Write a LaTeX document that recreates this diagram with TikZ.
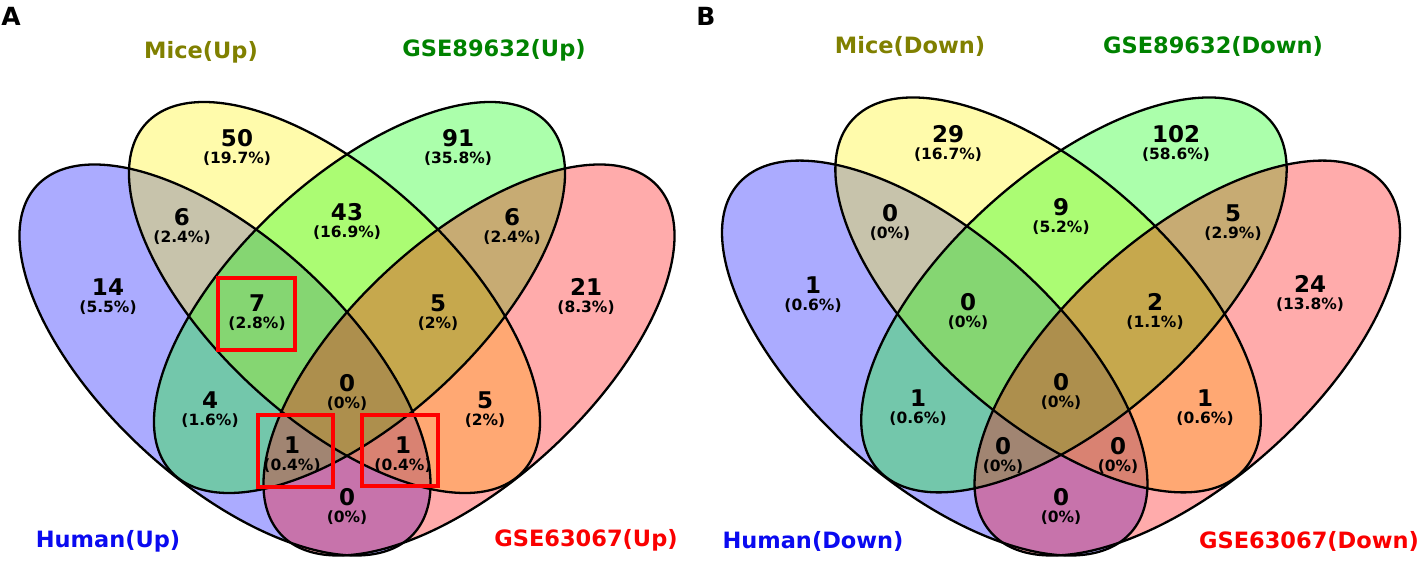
\documentclass[tikz,border=0pt]{standalone}
\usepackage{fontspec}
\setmainfont{DejaVu Sans}
\usetikzlibrary{positioning}
\definecolor{humanblue}{RGB}{10,10,240}
\definecolor{miceolive}{RGB}{128,128,0}
\definecolor{gsegreen}{RGB}{0,130,0}
\definecolor{gsered}{RGB}{250,0,0}

\newcommand{\vennsets}{%
  \fill[blue,venn,rotate around={-42.75:(225,360)}] (225,360) ellipse [x radius=256.5,y radius=121];
  \fill[yellow,venn,rotate around={-42.75:(334.5,297.5)}] (334.5,297.5) ellipse [x radius=256.5,y radius=121];
  \fill[green,venn,rotate around={42.75:(359.5,297.5)}] (359.5,297.5) ellipse [x radius=256.5,y radius=121];
  \fill[red,venn,rotate around={42.75:(469,360)}] (469,360) ellipse [x radius=256.5,y radius=121];
  \draw[rim,rotate around={-42.75:(225,360)}] (225,360) ellipse [x radius=256.5,y radius=121];
  \draw[rim,rotate around={-42.75:(334.5,297.5)}] (334.5,297.5) ellipse [x radius=256.5,y radius=121];
  \draw[rim,rotate around={42.75:(359.5,297.5)}] (359.5,297.5) ellipse [x radius=256.5,y radius=121];
  \draw[rim,rotate around={42.75:(469,360)}] (469,360) ellipse [x radius=256.5,y radius=121];
}

\begin{document}
\begin{tikzpicture}[x=1pt,y=-1pt,
    num/.style={inner sep=0pt,font=\bfseries\fontsize{23}{25}\selectfont},
    pct/.style={inner sep=0pt,font=\bfseries\fontsize{15.5}{17}\selectfont},
    setlab/.style={inner sep=0pt,font=\bfseries\fontsize{22.5}{24}\selectfont},
    panel/.style={inner sep=0pt,font=\bfseries\fontsize{25}{27}\selectfont},
    venn/.style={fill opacity=0.33},
    rim/.style={draw=black,line width=2.3pt},
    hlbox/.style={draw=red,line width=3.2pt}]

  \useasboundingbox (0,0) rectangle (1425,564);

  \vennsets
  \begin{scope}[shift={(1061,555)},xscale=1.035,yscale=1.01,shift={(-347,-555)}]
    \vennsets
  \end{scope}

  \node[panel] (pa) at (11,16) {A};
  \node[setlab,text=miceolive] (micea) at (201,52) {Mice(Up)};
  \node[setlab,text=gsegreen] (gse89a) at (494,50) {GSE89632(Up)};
  \node[setlab,text=humanblue] (humana) at (108,541) {Human(Up)};
  \node[setlab,text=gsered] (gse63a) at (586,540) {GSE63067(Up)};

  \node[num] (a1) at (237,138) {50};
  \node[pct,below=5pt of a1] (a1p) {(19.7\%)};
  \node[num] (a2) at (458,138) {91};
  \node[pct,below=5pt of a2] (a2p) {(35.8\%)};
  \node[num] (a3) at (108,287) {14};
  \node[pct,below=5pt of a3] (a3p) {(5.5\%)};
  \node[num] (a4) at (586,287) {21};
  \node[pct,below=5pt of a4] (a4p) {(8.3\%)};
  \node[num] (a5) at (182,217) {6};
  \node[pct,below=5pt of a5] (a5p) {(2.4\%)};
  \node[num] (a6) at (512,217) {6};
  \node[pct,below=5pt of a6] (a6p) {(2.4\%)};
  \node[num] (a7) at (347,212) {43};
  \node[pct,below=5pt of a7] (a7p) {(16.9\%)};
  \node[num] (a8) at (257,303) {7};
  \node[pct,below=5pt of a8] (a8p) {(2.8\%)};
  \node[num] (a9) at (438,303) {5};
  \node[pct,below=5pt of a9] (a9p) {(2\%)};
  \node[num] (a10) at (347,383) {0};
  \node[pct,below=5pt of a10] (a10p) {(0\%)};
  \node[num] (a11) at (210,400) {4};
  \node[pct,below=5pt of a11] (a11p) {(1.6\%)};
  \node[num] (a12) at (485,400) {5};
  \node[pct,below=5pt of a12] (a12p) {(2\%)};
  \node[num] (a13) at (292,445) {1};
  \node[pct,below=5pt of a13] (a13p) {(0.4\%)};
  \node[num] (a14) at (403,445) {1};
  \node[pct,below=5pt of a14] (a14p) {(0.4\%)};
  \node[num] (a15) at (347,497) {0};
  \node[pct,below=5pt of a15] (a15p) {(0\%)};

  \draw[hlbox] (218,278) rectangle (295,350);
  \draw[hlbox] (258,415) rectangle (333,487);
  \draw[hlbox] (362,415) rectangle (438,486);

  \node[panel] (pb) at (706,16) {B};
  \node[setlab,text=miceolive] (miceb) at (910,46) {Mice(Down)};
  \node[setlab,text=gsegreen] (gse89b) at (1213,46) {GSE89632(Down)};
  \node[setlab,text=humanblue] (humanb) at (813,541) {Human(Down)};
  \node[setlab,text=gsered] (gse63b) at (1309,541) {GSE63067(Down)};

  \node[num] (b1) at (948,134) {29};
  \node[pct,below=5pt of b1] (b1p) {(16.7\%)};
  \node[num] (b2) at (1176,134) {102};
  \node[pct,below=5pt of b2] (b2p) {(58.6\%)};
  \node[num] (b3) at (813,285) {1};
  \node[pct,below=5pt of b3] (b3p) {(0.6\%)};
  \node[num] (b4) at (1310,284) {24};
  \node[pct,below=5pt of b4] (b4p) {(13.8\%)};
  \node[num] (b5) at (890,213) {0};
  \node[pct,below=5pt of b5] (b5p) {(0\%)};
  \node[num] (b6) at (1233,213) {5};
  \node[pct,below=5pt of b6] (b6p) {(2.9\%)};
  \node[num] (b7) at (1061,207) {9};
  \node[pct,below=5pt of b7] (b7p) {(5.2\%)};
  \node[num] (b8) at (968,302) {0};
  \node[pct,below=5pt of b8] (b8p) {(0\%)};
  \node[num] (b9) at (1155,302) {2};
  \node[pct,below=5pt of b9] (b9p) {(1.1\%)};
  \node[num] (b10) at (1061,382) {0};
  \node[pct,below=5pt of b10] (b10p) {(0\%)};
  \node[num] (b11) at (918,398) {1};
  \node[pct,below=5pt of b11] (b11p) {(0.6\%)};
  \node[num] (b12) at (1205,398) {1};
  \node[pct,below=5pt of b12] (b12p) {(0.6\%)};
  \node[num] (b13) at (1003,446) {0};
  \node[pct,below=5pt of b13] (b13p) {(0\%)};
  \node[num] (b14) at (1118,446) {0};
  \node[pct,below=5pt of b14] (b14p) {(0\%)};
  \node[num] (b15) at (1061,497) {0};
  \node[pct,below=5pt of b15] (b15p) {(0\%)};

\end{tikzpicture}
\end{document}
